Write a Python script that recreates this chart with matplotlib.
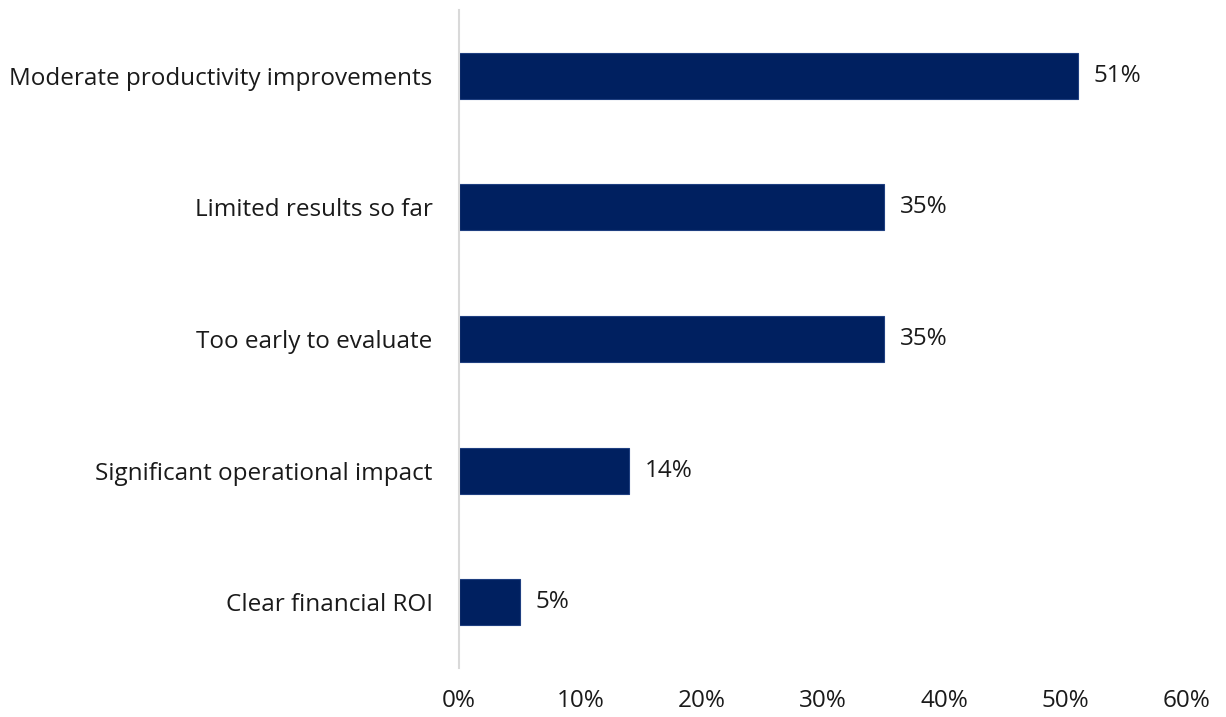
import matplotlib
matplotlib.use("Agg")
import matplotlib.pyplot as plt
from matplotlib.ticker import FuncFormatter

categories = [
    "Moderate productivity improvements",
    "Limited results so far",
    "Too early to evaluate",
    "Significant operational impact",
    "Clear financial ROI",
]
values = [51, 35, 35, 14, 5]
x_ticks = [0, 10, 20, 30, 40, 50, 60]

BAR_COLOR = "#002060"
TEXT_COLOR = "#1a1a1a"
FONT_SIZE = 17.5
plt.rcParams["font.family"] = ["Open Sans", "DejaVu Sans"]

fig = plt.figure(figsize=(12.26, 7.17), dpi=100)
ax = fig.add_axes([459 / 1226, 1 - 668 / 717, (1187 - 459) / 1226, (668 - 10) / 717])

ypos = list(range(len(categories)))
ax.barh(ypos, values, height=0.35, color=BAR_COLOR, edgecolor="#1f3f80", linewidth=0.8)
for y, v in zip(ypos, values):
    ax.text(v + 1.3, y, f"{v}%", va="center", ha="left", fontsize=FONT_SIZE, color=TEXT_COLOR)

ax.set_xlim(0, 60)
ax.set_ylim(len(categories) - 0.5, -0.5)
ax.set_yticks(ypos)
ax.set_yticklabels(categories, fontsize=FONT_SIZE, color=TEXT_COLOR)
ax.set_xticks(x_ticks)
ax.xaxis.set_major_formatter(FuncFormatter(lambda x, _: f"{x:.0f}%"))
ax.tick_params(axis="x", labelsize=FONT_SIZE, labelcolor=TEXT_COLOR, length=0, pad=15)
ax.tick_params(axis="y", length=0, pad=19)

for side in ("top", "right", "bottom"):
    ax.spines[side].set_visible(False)
ax.spines["left"].set_color("#d9d9d9")
ax.spines["left"].set_linewidth(1.5)

fig.savefig("out.png", dpi=100, facecolor="white")
